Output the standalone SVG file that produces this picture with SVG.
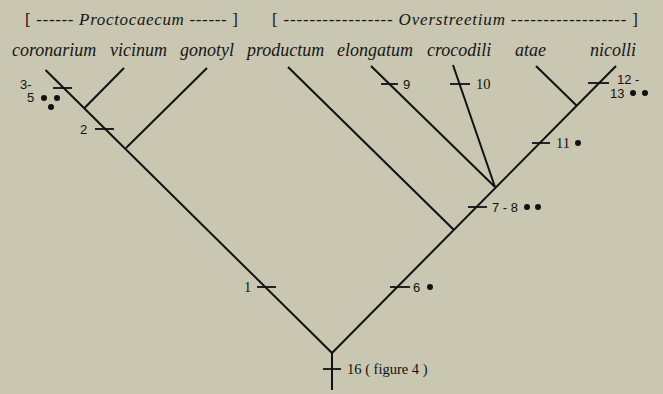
<svg xmlns="http://www.w3.org/2000/svg" width="663" height="394" viewBox="0 0 663 394">
<style>
.br{stroke:#111;stroke-width:2;fill:none;stroke-linecap:butt}
.tk{stroke:#111;stroke-width:1.8}
.sp{font-family:"Liberation Serif",serif;font-style:italic;font-size:18px;fill:#161616}
.hd{font-family:"Liberation Serif",serif;font-style:italic;font-size:17px;fill:#161616}
.up{font-style:normal}
.lb{font-family:"Liberation Sans",sans-serif;font-size:13px;fill:#111}
.ls{font-family:"Liberation Serif",serif;font-size:14.5px;fill:#111}
.st{fill:#111}
</style>
<rect width="663" height="394" fill="#c9c6b1"/>
<g id="headers">
<text class="hd" x="25" y="25" textLength="213" lengthAdjust="spacing"><tspan class="up">[</tspan> ------ Proctocaecum  ------ <tspan class="up">]</tspan></text>
<text class="hd" x="272" y="25" textLength="366" lengthAdjust="spacing"><tspan class="up">[</tspan> ----------------- Overstreetium  ------------------ <tspan class="up">]</tspan></text>
</g>
<g id="taxa">
<text class="sp" x="12" y="56">coronarium</text>
<text class="sp" x="110" y="56">vicinum</text>
<text class="sp" x="180" y="56">gonotyl</text>
<text class="sp" x="247" y="56">productum</text>
<text class="sp" x="337" y="56">elongatum</text>
<text class="sp" x="427" y="56">crocodili</text>
<text class="sp" x="515" y="56">atae</text>
<text class="sp" x="590" y="56">nicolli</text>
</g>
<g id="connectors">
<path class="br" d="M332,390 V353 L45.5,70"/>
<path class="br" d="M84.5,108 L124,68"/>
<path class="br" d="M126,148 L207,68"/>
<path class="br" d="M332,353 L616,66"/>
<path class="br" d="M454,230 L288,67"/>
<path class="br" d="M495,187 L371,66"/>
<path class="br" d="M495,187 L453,65"/>
<path class="br" d="M577,106 L536,66"/>
</g>
<g id="characters">
<g id="c16"><line class="tk" x1="323" y1="369" x2="341" y2="369"/><text class="ls" x="347" y="374">16 ( figure 4 )</text></g>
<g id="c1"><line class="tk" x1="257" y1="287" x2="276" y2="287"/><text class="ls" x="244" y="292">1</text></g>
<g id="c2"><line class="tk" x1="95" y1="129" x2="114" y2="129"/><text class="lb" x="80" y="134">2</text></g>
<g id="c3-5"><line class="tk" x1="53" y1="88" x2="72" y2="88"/><text class="lb" x="20" y="89">3-</text><text class="lb" x="27" y="102">5</text>
<circle class="st" cx="44" cy="98" r="3"/><circle class="st" cx="57" cy="98" r="3"/><circle class="st" cx="51" cy="107" r="3"/></g>
<g id="c6"><line class="tk" x1="390" y1="287" x2="410" y2="287"/><text class="lb" x="413" y="292">6</text><circle class="st" cx="430" cy="287" r="3"/></g>
<g id="c7-8"><line class="tk" x1="468" y1="207" x2="487" y2="207"/><text class="lb" x="492" y="212">7 - 8</text><circle class="st" cx="527" cy="207" r="3"/><circle class="st" cx="538" cy="207" r="3"/></g>
<g id="c9"><line class="tk" x1="381" y1="84" x2="398" y2="84"/><text class="lb" x="403" y="89">9</text></g>
<g id="c10"><line class="tk" x1="450" y1="84" x2="470" y2="84"/><text class="ls" x="476" y="89">10</text></g>
<g id="c11"><line class="tk" x1="532" y1="143" x2="550" y2="143"/><text class="ls" x="556" y="148">11</text><circle class="st" cx="578" cy="143" r="3"/></g>
<g id="c12-13"><line class="tk" x1="588" y1="83" x2="609" y2="83"/><text class="lb" x="617" y="84">12 -</text><text class="lb" x="610" y="98">13</text><circle class="st" cx="633" cy="93" r="3"/><circle class="st" cx="645" cy="93" r="3"/></g>
</g>
</svg>
